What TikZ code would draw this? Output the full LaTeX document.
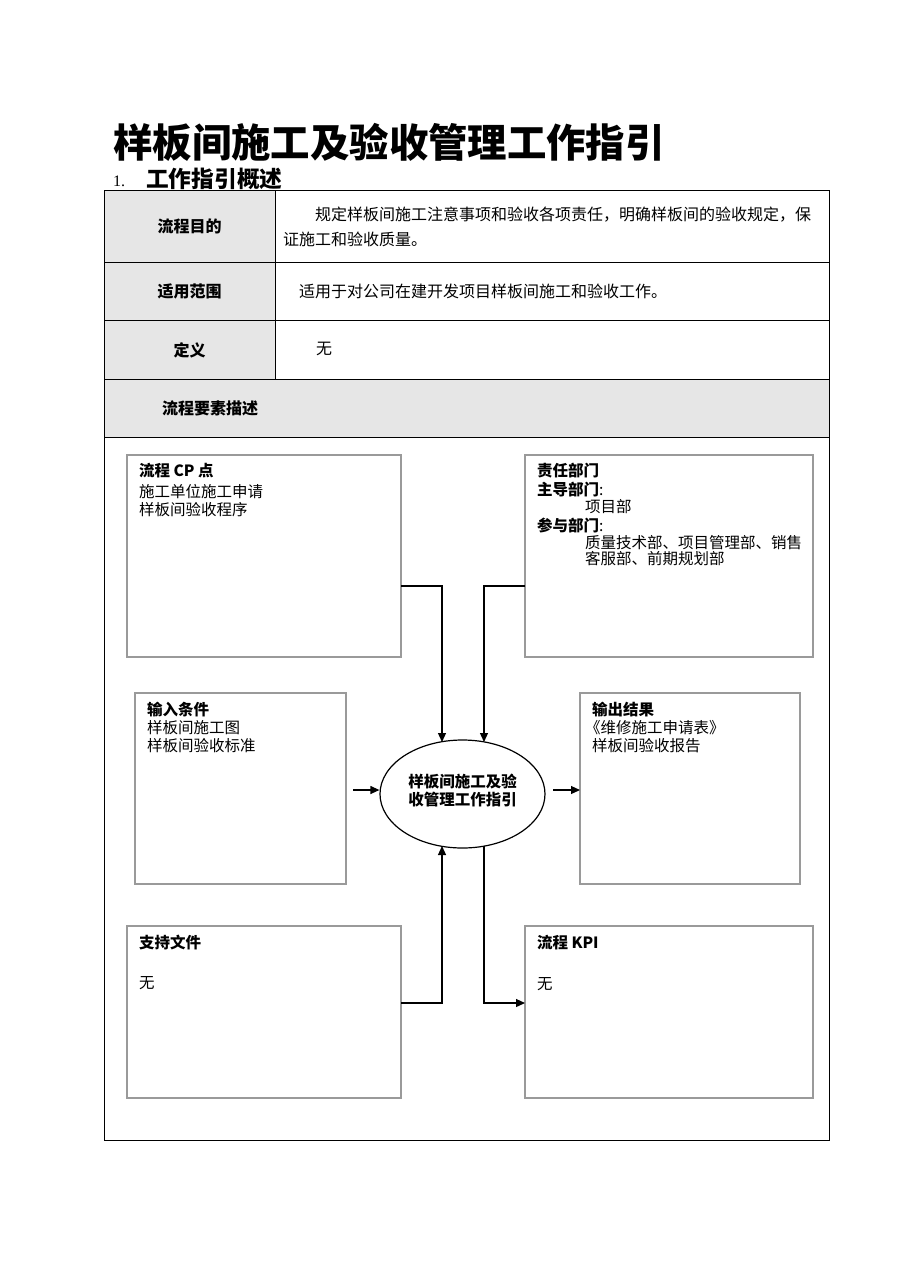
\documentclass[tikz,border=0pt]{standalone}
\usepackage{fontspec}
\setmainfont{Noto Sans CJK SC}
\newfontfamily\latinserif{Liberation Serif}
\usetikzlibrary{shapes.geometric,arrows.meta}
\definecolor{cellgray}{HTML}{E6E6E6}
\definecolor{boxgray}{HTML}{9A9A9A}
\tikzset{
  txt/.style={inner sep=0pt, outer sep=0pt, anchor=west, font=\fontsize{16}{18}\selectfont},
  lbl/.style={inner sep=0pt, outer sep=0pt, font=\bfseries\fontsize{16}{18}\selectfont},
  bxt/.style={inner sep=0pt, outer sep=0pt, anchor=west, font=\fontsize{15.5}{18}\selectfont},
  bxh/.style={inner sep=0pt, outer sep=0pt, anchor=west, font=\bfseries\fontsize{15.5}{18}\selectfont},
  infobox/.style={draw=boxgray, line width=1.3pt, inner sep=0pt, outer sep=0pt, anchor=north west},
  tline/.style={draw=black, line width=0.9pt},
  arr/.style={draw=black, line width=1.2pt, -{Triangle[length=9pt,width=8pt]}}
}
\begin{document}
\begin{tikzpicture}[x=1pt,y=-1pt]
\useasboundingbox (0,0) rectangle (909,1286);
\fill[white] (0,0) rectangle (909,1286);

% Title
\node[inner sep=0pt, anchor=west, font=\bfseries\fontsize{39.4}{42}\selectfont] (title) at (113,142) {样板间施工及验收管理工作指引};
\node[inner sep=0pt, anchor=west, font=\latinserif\fontsize{16}{18}\selectfont] (secnum) at (113,181) {1.};
\node[inner sep=0pt, anchor=west, font=\bfseries\fontsize{22.7}{24}\selectfont] (sec) at (146,179) {工作指引概述};

% Table fills
\fill[cellgray] (104,190) rectangle (275,379);
\fill[cellgray] (104,379) rectangle (829,437);
% Table lines
\draw[tline] (104,190) rectangle (829,1140);
\draw[tline] (104,262) -- (829,262);
\draw[tline] (104,320) -- (829,320);
\draw[tline] (104,379) -- (829,379);
\draw[tline] (104,437) -- (829,437);
\draw[tline] (275,190) -- (275,379);

% Table text
\node[lbl] (l1) at (189.5,226) {流程目的};
\node[txt] (t1a) at (315,215) {规定样板间施工注意事项和验收各项责任，明确样板间的验收规定，保};
\node[txt] (t1b) at (283,239) {证施工和验收质量。};
\node[lbl] (l2) at (189.5,291) {适用范围};
\node[txt] (t2) at (299,291) {适用于对公司在建开发项目样板间施工和验收工作。};
\node[lbl] (l3) at (189.5,350) {定义};
\node[txt] (t3) at (316,349) {无};
\node[lbl, anchor=west] (l4) at (162,408) {流程要素描述};

% Boxes
\node[infobox, minimum width=274pt, minimum height=202pt] (cp) at (127,455) {};
\node[infobox, minimum width=288pt, minimum height=202pt] (resp) at (525,455) {};
\node[infobox, minimum width=211pt, minimum height=191pt] (inb) at (135,693) {};
\node[infobox, minimum width=220pt, minimum height=191pt] (outb) at (580,693) {};
\node[infobox, minimum width=274pt, minimum height=172pt] (sup) at (127,926) {};
\node[infobox, minimum width=288pt, minimum height=172pt] (kpi) at (525,926) {};

% Box texts
\node[bxh] (cph) at (139,471) {流程 CP 点};
\node[bxt] (cp1) at (139,492) {施工单位施工申请};
\node[bxt] (cp2) at (139,510) {样板间验收程序};

\node[bxh] (rh) at (537,471) {责任部门};
\node[bxh] (r1) at (537,490) {主导部门\textmd{:}};
\node[bxt] (r2) at (585,507) {项目部};
\node[bxh] (r3) at (537,525) {参与部门\textmd{:}};
\node[bxt] (r4) at (585,543) {质量技术部、项目管理部、销售};
\node[bxt] (r5) at (585,559) {客服部、前期规划部};

\node[bxh] (ih) at (147,710) {输入条件};
\node[bxt] (i1) at (147,728) {样板间施工图};
\node[bxt] (i2) at (147,746) {样板间验收标准};

\node[bxh] (oh) at (592,710) {输出结果};
\node[bxt] (o1) at (585,728) {《维修施工申请表》};
\node[bxt] (o2) at (592,746) {样板间验收报告};

\node[bxh] (sh) at (139,943) {支持文件};
\node[bxt] (s1) at (139,983) {无};

\node[bxh] (kh) at (537,943) {流程 KPI};
\node[bxt] (k1) at (537,984) {无};

% Process ellipse
\node[ellipse, draw=black, line width=1.2pt, minimum width=165pt, minimum height=108pt, inner sep=0pt] (proc) at (462.5,794) {};
\node[inner sep=0pt, align=center, font=\bfseries\fontsize{15.5}{18}\selectfont] (proctxt) at (462.5,791) {样板间施工及验\\收管理工作指引};

% Connector coordinates
\coordinate (cpo) at (401,586);
\coordinate (e1) at (442,742);
\coordinate (rso) at (525,586);
\coordinate (e2) at (484,742);
\coordinate (ia) at (353,790);
\coordinate (oa) at (553,790);
\coordinate (spo) at (401,1003);
\coordinate (e3) at (442,846);
\coordinate (e4) at (484,846);
\coordinate (kpiin) at (525,1003);

% Connectors
\draw[arr] (cpo) -| (e1);
\draw[arr] (rso) -| (e2);
\draw[arr] (ia) -- (ia -| proc.west);
\draw[arr] (oa) -- (oa -| outb.west);
\draw[arr] (spo) -| (e3);
\draw[arr] (e4) |- (kpiin);
\end{tikzpicture}
\end{document}
